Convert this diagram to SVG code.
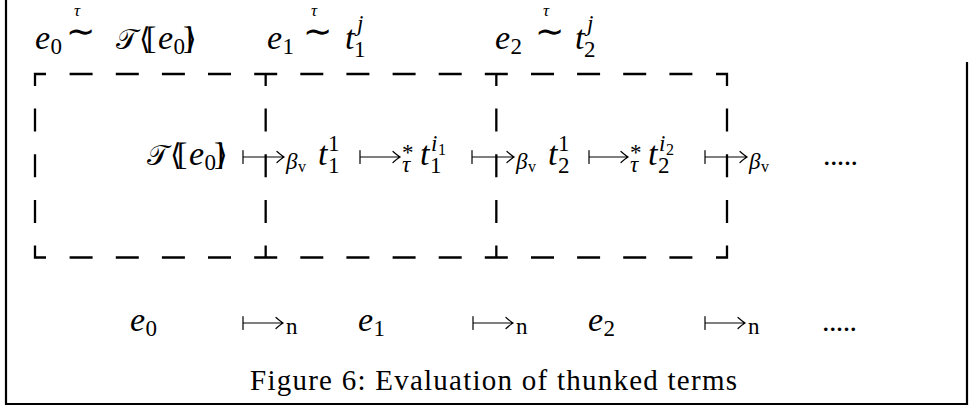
<svg xmlns="http://www.w3.org/2000/svg" width="975" height="407" viewBox="0 0 975 407">
<style>
  .frame { fill: none; stroke: #000; stroke-width: 2.2; }
  .dash { fill: none; stroke: #000; stroke-width: 2.3; }
  .arr { fill: none; stroke: #000; stroke-width: 1.2; stroke-linecap: round; }
  .m { font-family: "Liberation Serif", "DejaVu Serif", serif; font-style: italic; font-size: 34px; fill: #000; }
  .r { font-family: "Liberation Serif", "DejaVu Serif", serif; font-style: normal; font-size: 23px; }
  .rs { font-family: "Liberation Serif", "DejaVu Serif", serif; font-style: normal; font-size: 16px; }
  .s { font-family: "Liberation Serif", "DejaVu Serif", serif; font-style: italic; font-size: 23px; }
  .ss { font-family: "Liberation Serif", "DejaVu Serif", serif; font-style: italic; font-size: 17px; }
  .lbl { font-family: "Liberation Serif", "DejaVu Serif", serif; font-style: italic; font-size: 23px; fill: #000; }
  .cal { font-family: "DejaVu Sans", "Liberation Serif", serif; font-style: normal; font-size: 28px; fill: #000; }
  .br { font-family: "DejaVu Sans", "Liberation Serif", serif; font-style: normal; font-size: 30px; }
  .sb { font-family: "Liberation Serif", serif; font-style: normal; font-size: 31px; }
  .tl { font-family: "DejaVu Sans", sans-serif; font-style: normal; font-size: 35px; fill: #000; }
  .cap { font-family: "Liberation Serif", "DejaVu Serif", serif; font-size: 29px; fill: #000; }
  .dots { font-family: "Liberation Serif", serif; font-size: 30px; fill: #000; }
</style>

<!-- outer frame -->
<g id="frame">
  <path class="frame" d="M6 0 V404 H967 V62"/>
</g>

<!-- dashed boxes -->
<g id="dashed-boxes">
  <path class="dash" d="
    M35 86 V74 H46 M265.67 86 V74 M254.2 74 H277.2 M496.33 86 V74 M484.8 74 H507.8 M716 74 H727 V86
    M69.6 74 H92.6 M115.8 74 H138.8 M161.9 74 H184.9 M208 74 H231
    M300.3 74 H323.3 M346.4 74 H369.4 M392.6 74 H415.6 M438.7 74 H461.7
    M531 74 H554 M577.1 74 H600.1 M623.2 74 H646.2 M669.4 74 H692.4
    M35 245.5 V257.5 H46 M265.67 245.5 V257.5 M254.2 257.5 H277.2 M496.33 245.5 V257.5 M484.8 257.5 H507.8 M716 257.5 H727 V245.5
    M69.6 257.5 H92.6 M115.8 257.5 H138.8 M161.9 257.5 H184.9 M208 257.5 H231
    M300.3 257.5 H323.3 M346.4 257.5 H369.4 M392.6 257.5 H415.6 M438.7 257.5 H461.7
    M531 257.5 H554 M577.1 257.5 H600.1 M623.2 257.5 H646.2 M669.4 257.5 H692.4
    M35 108.4 V131.4 M35 154.25 V177.25 M35 200.1 V223.1
    M265.67 108.4 V131.4 M265.67 154.25 V177.25 M265.67 200.1 V223.1
    M496.33 108.4 V131.4 M496.33 154.25 V177.25 M496.33 200.1 V223.1
    M727 108.4 V131.4 M727 154.25 V177.25 M727 200.1 V223.1"/>
</g>

<!-- top labels -->
<g id="label-e0">
  <text class="m" x="35" y="49">e<tspan class="r" x="50.5" y="54">0</tspan></text>
  <text class="tl" x="66" y="43">∼<tspan class="ss" x="74" y="16">τ</tspan></text>
  <text class="cal" x="116" y="49">𝒯<tspan class="br" x="139" y="49">⟨</tspan><tspan class="sb" x="146" y="49">[</tspan><tspan class="m" x="158" y="49">e</tspan><tspan class="r" x="173.5" y="54">0</tspan><tspan class="sb" x="183" y="49">]</tspan><tspan class="br" x="185" y="49">⟩</tspan></text>
</g>
<g id="label-e1">
  <text class="m" x="267" y="49">e<tspan class="r" x="282.5" y="54">1</tspan></text>
  <text class="tl" x="303" y="43">∼<tspan class="ss" x="311" y="16">τ</tspan></text>
  <text class="m" x="345" y="49">t<tspan class="r" x="354" y="57">1</tspan><tspan class="s" x="357" y="31">j</tspan></text>
</g>
<g id="label-e2">
  <text class="m" x="495" y="49">e<tspan class="r" x="510.5" y="54">2</tspan></text>
  <text class="tl" x="535" y="43">∼<tspan class="ss" x="543" y="16">τ</tspan></text>
  <text class="m" x="575" y="49">t<tspan class="r" x="584" y="57">2</tspan><tspan class="s" x="587" y="31">j</tspan></text>
</g>

<!-- middle row terms -->
<g id="thunk-e0">
  <text class="cal" x="147" y="165">𝒯<tspan class="br" x="170" y="165">⟨</tspan><tspan class="sb" x="177" y="165">[</tspan><tspan class="m" x="189" y="165">e</tspan><tspan class="r" x="204.5" y="170">0</tspan><tspan class="sb" x="214" y="165">]</tspan><tspan class="br" x="216" y="165">⟩</tspan></text>
</g>
<g id="t1-1">
  <text class="m" x="318" y="165">t<tspan class="r" x="328" y="173">1</tspan><tspan class="r" x="328" y="151">1</tspan></text>
</g>
<g id="t1-i1">
  <text class="m" x="420" y="165">t<tspan class="r" x="430" y="173">1</tspan><tspan class="s" x="431" y="151">i</tspan><tspan class="rs" x="438" y="155">1</tspan></text>
</g>
<g id="t2-1">
  <text class="m" x="548" y="165">t<tspan class="r" x="558" y="173">2</tspan><tspan class="r" x="558" y="151">1</tspan></text>
</g>
<g id="t2-i2">
  <text class="m" x="648" y="165">t<tspan class="r" x="658" y="173">2</tspan><tspan class="s" x="659" y="151">i</tspan><tspan class="rs" x="666" y="155">2</tspan></text>
</g>
<g id="dots-mid">
  <text class="dots" x="823" y="165" textLength="35" lengthAdjust="spacing">.....</text>
</g>

<!-- bottom row terms -->
<g id="e0-bottom">
  <text class="m" x="130" y="331">e<tspan class="r" x="145.5" y="336">0</tspan></text>
</g>
<g id="e1-bottom">
  <text class="m" x="358" y="331">e<tspan class="r" x="373.5" y="336">1</tspan></text>
</g>
<g id="e2-bottom">
  <text class="m" x="588" y="331">e<tspan class="r" x="603.5" y="336">2</tspan></text>
</g>
<g id="dots-bottom">
  <text class="dots" x="822" y="331" textLength="35" lengthAdjust="spacing">.....</text>
</g>

<!-- connectors -->
<g id="connectors">
  <path class="arr" d="M243 150.5 V163.5 M243 157 H284 M277 151.5 Q281.5 155.5 284 157 Q281.5 158.5 277 162.5"/>
  <path class="arr" d="M360 150.5 V163.5 M360 157 H400 M393 151.5 Q397.5 155.5 400 157 Q397.5 158.5 393 162.5"/>
  <path class="arr" d="M472 150.5 V163.5 M472 157 H514 M507 151.5 Q511.5 155.5 514 157 Q511.5 158.5 507 162.5"/>
  <path class="arr" d="M589 150.5 V163.5 M589 157 H628 M621 151.5 Q625.5 155.5 628 157 Q625.5 158.5 621 162.5"/>
  <path class="arr" d="M705 150.5 V163.5 M705 157 H747 M740 151.5 Q744.5 155.5 747 157 Q744.5 158.5 740 162.5"/>
  <path class="arr" d="M243 316.5 V329.5 M243 323 H283 M276 317.5 Q280.5 321.5 283 323 Q280.5 324.5 276 328.5"/>
  <path class="arr" d="M473 316.5 V329.5 M473 323 H513 M506 317.5 Q510.5 321.5 513 323 Q510.5 324.5 506 328.5"/>
  <path class="arr" d="M705 316.5 V329.5 M705 323 H745 M738 317.5 Q742.5 321.5 745 323 Q742.5 324.5 738 328.5"/>
  <!-- arrow labels -->
  <text class="lbl" x="286" y="169">β<tspan class="rs" x="298" y="172">v</tspan></text>
  <text class="lbl" x="402" y="160"><tspan class="r">*</tspan><tspan x="402" y="172">τ</tspan></text>
  <text class="lbl" x="516" y="169">β<tspan class="rs" x="528" y="172">v</tspan></text>
  <text class="lbl" x="630" y="160"><tspan class="r">*</tspan><tspan x="630" y="172">τ</tspan></text>
  <text class="lbl" x="749" y="169">β<tspan class="rs" x="761" y="172">v</tspan></text>
  <text class="lbl" x="286" y="334"><tspan class="r">n</tspan></text>
  <text class="lbl" x="516" y="334"><tspan class="r">n</tspan></text>
  <text class="lbl" x="748" y="334"><tspan class="r">n</tspan></text>
</g>

<!-- caption -->
<g id="caption">
  <text class="cap" x="250" y="390" textLength="487" lengthAdjust="spacing">Figure 6: Evaluation of thunked terms</text>
</g>
</svg>
